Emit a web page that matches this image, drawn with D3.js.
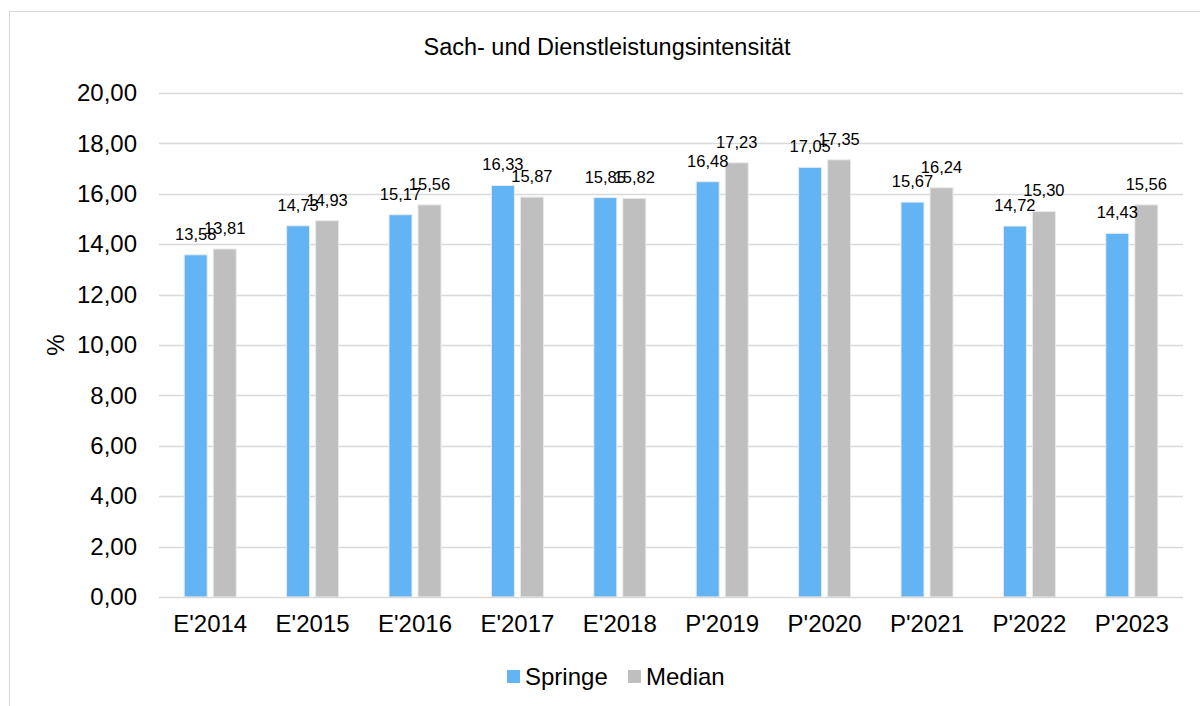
<!DOCTYPE html>
<html>
<head>
<meta charset="utf-8">
<script src="https://cdn.jsdelivr.net/npm/d3@7"></script>
<style>
  body { margin: 0; background: #fff; }
  text { font-family: "Liberation Sans", Arial, sans-serif; fill: #000; }
</style>
</head>
<body>
<svg id="chart" width="1200" height="706"></svg>
<script>
// data
var categories = ["E'2014", "E'2015", "E'2016", "E'2017", "E'2018", "P'2019", "P'2020", "P'2021", "P'2022", "P'2023"];
var springe = [13.58, 14.73, 15.17, 16.33, 15.85, 16.48, 17.05, 15.67, 14.72, 14.43];
var median = [13.81, 14.93, 15.56, 15.87, 15.82, 17.23, 17.35, 16.24, 15.30, 15.56];
var seriesNames = ["Springe", "Median"];
var seriesColors = ["#63b4f4", "#bfbfbf"];
var yTicks = [0, 2, 4, 6, 8, 10, 12, 14, 16, 18, 20];

var svg = d3.select("#chart");
var fmt = function(v){ return d3.format(".2f")(v).replace(".", ","); };

// outer frame
svg.append("rect")
  .attr("x", 9.5).attr("y", 11.5)
  .attr("width", 1200).attr("height", 720)
  .attr("fill", "none")
  .attr("stroke", "#d9d9d9")
  .attr("stroke-width", 1);

var plotLeft = 159, plotRight = 1183, plotTop = 93, plotBottom = 597;

var x0 = d3.scaleBand()
  .domain(categories)
  .range([plotLeft, plotRight])
  .paddingInner(0.492)
  .paddingOuter(0.246);

var x1 = d3.scaleBand()
  .domain(seriesNames)
  .range([0, x0.bandwidth()])
  .paddingInner(0.207);

var y = d3.scaleLinear()
  .domain([0, 20])
  .range([plotBottom, plotTop]);

// title
svg.append("text")
  .attr("x", 607).attr("y", 55)
  .attr("text-anchor", "middle")
  .style("font-size", "23.5px")
  .text("Sach- und Dienstleistungsintensität");

// gridlines
svg.append("g").selectAll("line")
  .data(yTicks.slice(1))
  .enter().append("line")
  .attr("x1", plotLeft).attr("x2", plotRight)
  .attr("y1", function(d){ return Math.round(y(d)) + 0.5; })
  .attr("y2", function(d){ return Math.round(y(d)) + 0.5; })
  .attr("stroke", "#d9d9d9")
  .attr("stroke-width", 1.5);

// y axis labels
var yAxis = svg.append("g")
  .attr("transform", "translate(" + plotLeft + ",0)")
  .call(d3.axisLeft(y).tickValues(yTicks).tickFormat(fmt).tickSize(0).tickPadding(22));
yAxis.select(".domain").remove();
yAxis.selectAll("text").style("font-size", "24px").attr("fill", "#000");

// y title
svg.append("text")
  .attr("transform", "translate(64,345) rotate(-90)")
  .attr("text-anchor", "middle")
  .style("font-size", "24px")
  .text("%");

// bars
var rows = categories.map(function(c, i){
  return { cat: c, vals: [springe[i], median[i]] };
});

var groups = svg.append("g").selectAll("g")
  .data(rows)
  .enter().append("g")
  .attr("transform", function(d){ return "translate(" + x0(d.cat) + ",0)"; });

groups.selectAll("rect")
  .data(function(d){ return d.vals.map(function(v, j){ return { s: seriesNames[j], v: v, j: j }; }); })
  .enter().append("rect")
  .attr("x", function(d){ return x1(d.s); })
  .attr("y", function(d){ return y(d.v); })
  .attr("width", x1.bandwidth())
  .attr("height", function(d){ return y(0) - y(d.v); })
  .attr("fill", function(d){ return seriesColors[d.j]; })
  .attr("stroke", "#eaeaea")
  .attr("stroke-width", 1);

groups.selectAll("text")
  .data(function(d){ return d.vals.map(function(v, j){ return { s: seriesNames[j], v: v }; }); })
  .enter().append("text")
  .attr("x", function(d){ return x1(d.s) + x1.bandwidth() / 2; })
  .attr("y", function(d){ return y(d.v) - 15; })
  .attr("text-anchor", "middle")
  .style("font-size", "16.5px")
  .text(function(d){ return fmt(d.v); });

// x axis baseline
svg.append("line")
  .attr("x1", plotLeft).attr("x2", plotRight)
  .attr("y1", plotBottom + 0.5).attr("y2", plotBottom + 0.5)
  .attr("stroke", "#d9d9d9")
  .attr("stroke-width", 1.5);

var xAxis = svg.append("g")
  .attr("transform", "translate(0," + plotBottom + ")")
  .call(d3.axisBottom(x0).tickSize(0).tickPadding(18));
xAxis.select(".domain").remove();
xAxis.selectAll("text").style("font-size", "24px").attr("fill", "#000").attr("dy", "0.71em");

// legend
var legend = svg.append("g").attr("transform", "translate(507,670)");
var legX = [0, 121];
seriesNames.forEach(function(name, i){
  legend.append("rect")
    .attr("x", legX[i]).attr("y", 0)
    .attr("width", 13).attr("height", 13)
    .attr("fill", seriesColors[i]);
  legend.append("text")
    .attr("x", legX[i] + 18).attr("y", 15)
    .style("font-size", "24px")
    .text(name);
});
</script>
</body>
</html>
